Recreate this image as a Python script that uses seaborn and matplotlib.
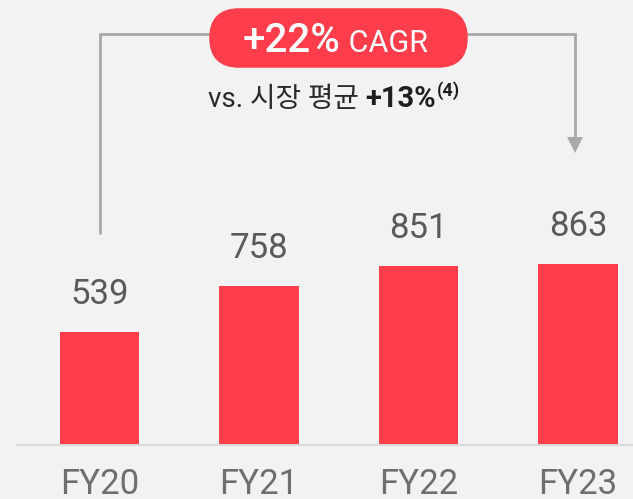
import matplotlib
matplotlib.use("Agg")
import matplotlib.pyplot as plt
import seaborn as sns
import pandas as pd
from matplotlib.patches import FancyBboxPatch
from matplotlib.transforms import IdentityTransform

# Data
years = ["FY20", "FY21", "FY22", "FY23"]
values = [539, 758, 851, 863]
cagr_text = "+22%"
cagr_label = "CAGR"
sub_prefix = "vs. 시장 평균 "
sub_value = "+13%"
sub_note = "(4)"

BG = "#f2f2f2"
RED = "#ff3d4b"
GREY_LINE = "#a9a9a9"

sns.set_theme(style="white")
plt.rcParams['font.family'] = ['Roboto', 'Noto Sans CJK KR', 'DejaVu Sans']

df = pd.DataFrame({"year": years, "value": values})

fig = plt.figure(figsize=(6.33, 4.99), dpi=100, facecolor=BG)
W, H = 633, 499
ax = fig.add_axes([17 / W, 54 / H, 616 / W, 445 / H])
ax.set_facecolor(BG)

sns.barplot(data=df, x="year", y="value", color=RED, width=0.5,
            saturation=1, ax=ax, edgecolor="none")

px_per_unit = 0.21
ax.set_ylim(0, 445 / px_per_unit)
ax.set_xlim((17 - 99.5) / 159.5, (633 - 99.5) / 159.5)

ax.bar_label(ax.containers[0], labels=[str(v) for v in values],
             padding=15, fontsize=25, color="#5a5a5a")

for s in ["top", "left", "right"]:
    ax.spines[s].set_visible(False)
ax.spines["bottom"].set_color("#d9d9d9")
ax.spines["bottom"].set_linewidth(1.5)
ax.set_yticks([])
ax.set_xlabel("")
ax.set_ylabel("")
ax.tick_params(axis="x", length=0, pad=16.5, labelsize=25, labelcolor="#6e6e6e")

# bracket with arrow from FY20 to FY23
top_y = (445 - 34) / px_per_unit
left_bottom = (445 - 233) / px_per_unit
right_x = 3 - 0.02
right_end = (445 - 138) / px_per_unit
ax.plot([0, 0, right_x, right_x], [left_bottom, top_y, top_y, right_end],
        color=GREY_LINE, lw=2, solid_joinstyle="miter", zorder=1)
ax.plot([right_x], [(445 - 145) / px_per_unit], marker="v", markersize=12,
        color=GREY_LINE, markeredgewidth=0, zorder=1)

# CAGR pill (pixel coordinates)
pill = FancyBboxPatch((210 + 2, H - 67 + 2), 257 - 4, 58 - 4,
                      boxstyle="round,pad=0,rounding_size=27",
                      transform=IdentityTransform(), facecolor=RED,
                      edgecolor=RED, linewidth=4, zorder=5)
fig.patches.append(pill)

renderer = fig.canvas.get_renderer()


def chain(pieces, x, y):
    for s, weight, size, color, dy in pieces:
        t = fig.text(x, y + dy, s, transform=IdentityTransform(), ha="left",
                     va="baseline", fontsize=size, fontweight=weight,
                     color=color, zorder=6)
        x += t.get_window_extent(renderer).width


chain([(cagr_text, "medium", 29, "white", 0),
       (" " + cagr_label, "normal", 22, "white", 0)], 243, H - 52)

chain([(sub_prefix, "normal", 20, "#2a2a2a", 0),
       (sub_value, "bold", 21, "#1e1e1e", 0),
       (sub_note, "bold", 13, "#1e1e1e", 11)], 208, H - 107)

fig.savefig("out.png", dpi=100, facecolor=BG)
